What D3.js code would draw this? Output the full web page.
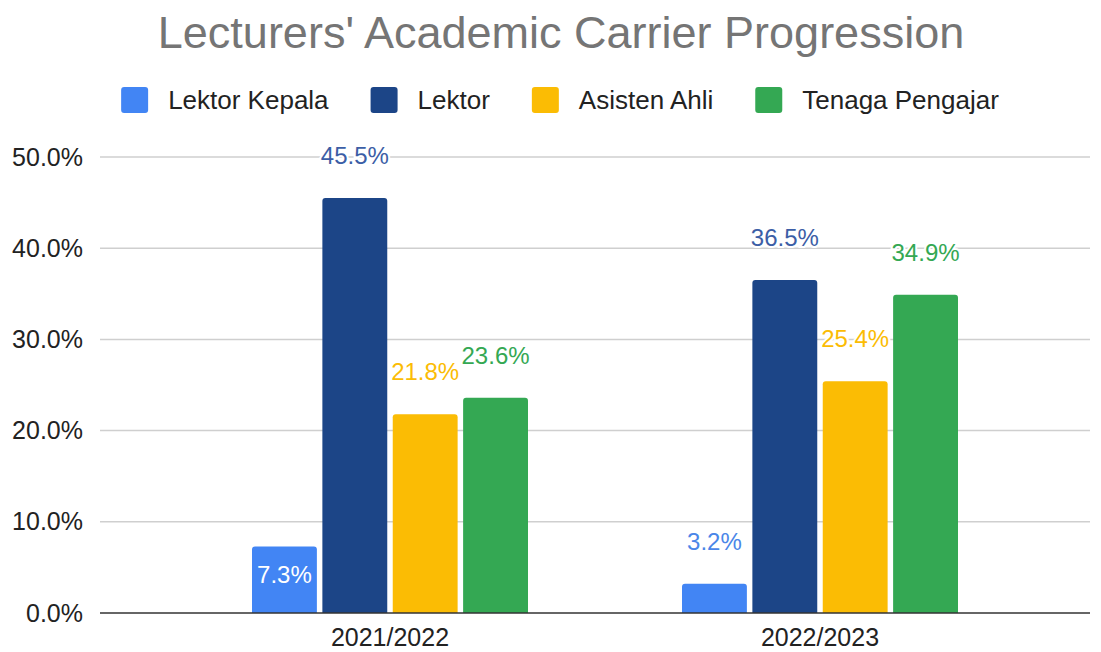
<!DOCTYPE html>
<html>
<head>
<meta charset="utf-8">
<script src="https://cdn.jsdelivr.net/npm/d3@7"></script>
<style>
  body { margin: 0; background: #fff; }
  text { font-family: Arial, "Liberation Sans", sans-serif; }
</style>
</head>
<body>
<div id="chart"></div>
<script>
// données
const years = ["2021/2022", "2022/2023"];
const series = ["Lektor Kepala", "Lektor", "Asisten Ahli", "Tenaga Pengajar"];
const colors = ["#4285f4", "#1c4587", "#fbbc04", "#34a853"];
const lektorKepala = [0.073, 0.032];
const lektor = [0.455, 0.365];
const asistenAhli = [0.218, 0.254];
const tenagaPengajar = [0.236, 0.349];
const yTicks = [0, 0.1, 0.2, 0.3, 0.4, 0.5];

const values = [lektorKepala, lektor, asistenAhli, tenagaPengajar];

const width = 1101;
const height = 652;

const svg = d3.select("#chart")
  .append("svg")
  .attr("width", width)
  .attr("height", height);

// titre
svg.append("text")
  .attr("x", 561)
  .attr("y", 48)
  .attr("text-anchor", "middle")
  .attr("font-size", 45)
  .attr("fill", "#757575")
  .text("Lecturers' Academic Carrier Progression");

// légende
const legend = svg.append("g").attr("transform", "translate(0,100)");
const items = legend.selectAll("g")
  .data(series)
  .enter().append("g");

items.append("rect")
  .attr("width", 27)
  .attr("height", 26)
  .attr("y", -13)
  .attr("rx", 3)
  .attr("fill", (d, i) => colors[i]);

items.append("text")
  .attr("x", 47)
  .attr("dy", "0.35em")
  .attr("font-size", 26)
  .attr("fill", "#222")
  .text(d => d);

let lx = 0;
const offsets = [];
items.each(function () {
  offsets.push(lx);
  lx += 47 + this.querySelector("text").getComputedTextLength() + 42;
});
const legendWidth = lx - 42;
const lx0 = 560 - legendWidth / 2;
items.attr("transform", (d, i) => `translate(${lx0 + offsets[i]},0)`);

// échelles
const x0 = d3.scaleBand()
  .domain(years)
  .range([175, 1035]);

const x1 = d3.scaleBand()
  .domain(series)
  .range([0, 276])
  .paddingInner(0.078);

const inner = (x0.bandwidth() - 276) / 2;

const y = d3.scaleLinear()
  .domain([0, 0.5])
  .range([613, 157]);

// grille
svg.append("g")
  .selectAll("line")
  .data(yTicks.slice(1))
  .enter().append("line")
  .attr("x1", 100)
  .attr("x2", 1090)
  .attr("y1", d => y(d))
  .attr("y2", d => y(d))
  .attr("stroke", "#cfcfcf")
  .attr("stroke-width", 1.5);

// axe y
const yAxis = svg.append("g")
  .attr("transform", "translate(83,0)")
  .call(d3.axisLeft(y).tickValues(yTicks).tickFormat(d3.format(".1%")).tickSize(0).tickPadding(0));
yAxis.select(".domain").remove();
yAxis.selectAll("text")
  .attr("font-size", 25)
  .attr("fill", "#222")
  .attr("font-family", "Arial, 'Liberation Sans', sans-serif");

// barres avec coins arrondis en haut
const rows = [];
years.forEach((yr, j) => {
  series.forEach((s, i) => {
    rows.push({ year: yr, serie: s, i: i, v: values[i][j] });
  });
});

const barPath = d => {
  const bx = x0(d.year) + inner + x1(d.serie);
  const bw = x1.bandwidth();
  const top = y(d.v);
  const base = y(0);
  const r = 3;
  return `M${bx},${base}V${top + r}Q${bx},${top} ${bx + r},${top}` +
    `H${bx + bw - r}Q${bx + bw},${top} ${bx + bw},${top + r}V${base}Z`;
};

svg.append("g")
  .selectAll("path")
  .data(rows)
  .enter().append("path")
  .attr("d", barPath)
  .attr("fill", d => colors[d.i]);

// axe x
svg.append("line")
  .attr("x1", 100)
  .attr("x2", 1090)
  .attr("y1", y(0))
  .attr("y2", y(0))
  .attr("stroke", "#333")
  .attr("stroke-width", 1.5);

const xAxis = svg.append("g")
  .attr("transform", `translate(0,${y(0)})`)
  .call(d3.axisBottom(x0).tickSize(0).tickPadding(0));
xAxis.select(".domain").remove();
xAxis.selectAll("text")
  .attr("font-size", 25)
  .attr("fill", "#222")
  .attr("font-family", "Arial, 'Liberation Sans', sans-serif")
  .attr("dy", 33);

// étiquettes de valeurs
const isInside = d => (y(0) - y(d.v)) > 50 && d.v < 0.1;
const labelColors = ["#4a86e8", "#3c5ea6", "#fbbc04", "#34a853"];

svg.append("g")
  .selectAll("text")
  .data(rows)
  .enter().append("text")
  .attr("x", d => x0(d.year) + inner + x1(d.serie) + x1.bandwidth() / 2)
  .attr("y", d => isInside(d) ? y(d.v) + 37 : y(d.v) - 34)
  .attr("text-anchor", "middle")
  .attr("font-size", 24)
  .attr("font-family", "Roboto, Arial, sans-serif")
  .attr("fill", d => isInside(d) ? "#fff" : labelColors[d.i])
  .attr("stroke", d => isInside(d) ? "none" : "#fff")
  .attr("stroke-width", 4)
  .attr("paint-order", "stroke")
  .text(d => d3.format(".1%")(d.v));
</script>
</body>
</html>
